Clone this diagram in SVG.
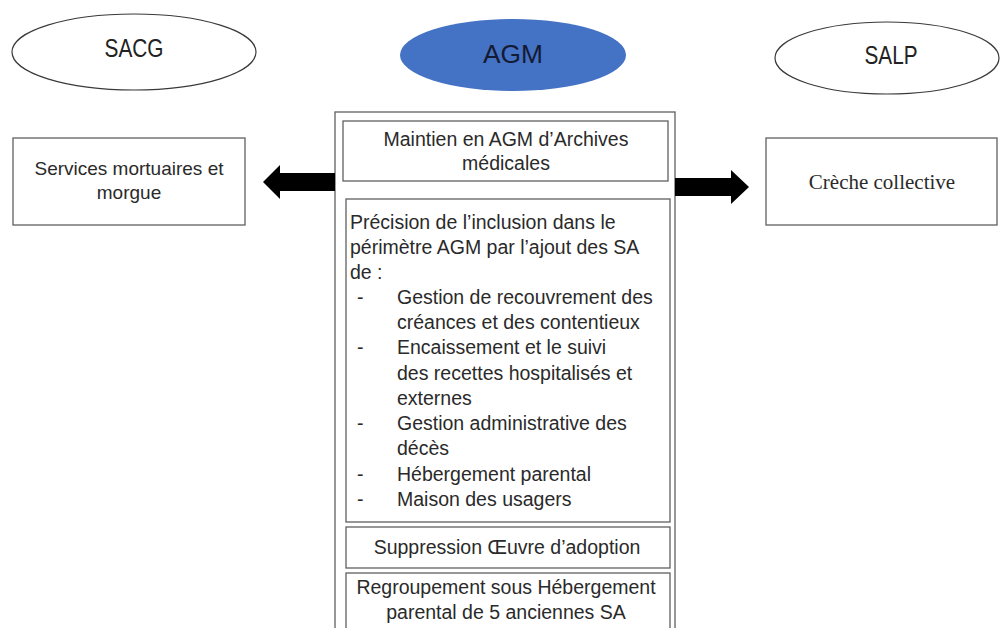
<svg xmlns="http://www.w3.org/2000/svg" width="1000" height="628" viewBox="0 0 1000 628">
<style>
.ell{fill:#fff;stroke:#3a3a3a;stroke-width:1.2}
.lab{font-family:"Liberation Sans",Arial,sans-serif;font-size:25px;fill:#222;text-anchor:middle}
.box{fill:#fff;stroke:#606060;stroke-width:1.3}
.t{font-family:"Liberation Sans",Arial,sans-serif;font-size:19.5px;fill:#2a2a2a}
.c{text-anchor:middle}
.side{font-family:"Liberation Sans",Arial,sans-serif;font-size:19px;fill:#2a2a2a;text-anchor:middle}
.serif{font-family:"Liberation Serif","Times New Roman",serif;font-size:21px;fill:#2a2a2a;text-anchor:middle}
.arrow{fill:#000}
</style>
<rect width="1000" height="628" fill="#fff"/>
<g id="node-sacg">
<ellipse class="ell" cx="134" cy="52" rx="122" ry="38"/>
<text class="lab" x="134" y="57" textLength="59" lengthAdjust="spacingAndGlyphs">SACG</text>
</g>
<g id="node-agm">
<ellipse cx="513" cy="55" rx="113" ry="36" fill="#4472C4"/>
<text class="lab" x="513" y="63" style="fill:#141a33" textLength="60" lengthAdjust="spacingAndGlyphs">AGM</text>
</g>
<g id="node-salp">
<ellipse class="ell" cx="887" cy="58" rx="112" ry="36"/>
<text class="lab" x="891" y="64" textLength="53" lengthAdjust="spacingAndGlyphs">SALP</text>
</g>
<g id="node-main">
<rect class="box" x="335" y="112" width="340" height="530"/>
</g>
<g id="node-maintien">
<rect class="box" x="343" y="121" width="325" height="60"/>
<text class="t c" x="506" y="146">Maintien en AGM d’Archives</text>
<text class="t c" x="506" y="170">médicales</text>
</g>
<g id="node-precision">
<rect class="box" x="346" y="199" width="324" height="323"/>
<text class="t" x="350" y="229">Précision de l’inclusion dans le</text>
<text class="t" x="350" y="254">périmètre AGM par l’ajout des SA</text>
<text class="t" x="350" y="279">de :</text>
<text class="t" x="357" y="304">-</text>
<text class="t" x="397" y="304">Gestion de recouvrement des</text>
<text class="t" x="397" y="329">créances et des contentieux</text>
<text class="t" x="357" y="354">-</text>
<text class="t" x="397" y="354">Encaissement et le suivi</text>
<text class="t" x="397" y="380">des recettes hospitalisés et</text>
<text class="t" x="397" y="405">externes</text>
<text class="t" x="357" y="430">-</text>
<text class="t" x="397" y="430">Gestion administrative des</text>
<text class="t" x="397" y="455">décès</text>
<text class="t" x="357" y="481">-</text>
<text class="t" x="397" y="481">Hébergement parental</text>
<text class="t" x="357" y="506">-</text>
<text class="t" x="397" y="506">Maison des usagers</text>
</g>
<g id="node-suppression">
<rect class="box" x="346" y="527" width="324" height="41"/>
<text class="t c" x="507" y="554">Suppression Œuvre d’adoption</text>
</g>
<g id="node-regroupement">
<rect class="box" x="346" y="573" width="324" height="70"/>
<text class="t c" x="506" y="594">Regroupement sous Hébergement</text>
<text class="t c" x="506" y="619">parental de 5 anciennes SA</text>
</g>
<g id="node-mortuaires">
<rect class="box" x="13" y="138" width="232" height="87"/>
<text class="side" x="129" y="175">Services mortuaires et</text>
<text class="side" x="129" y="199">morgue</text>
</g>
<g id="node-creche">
<rect class="box" x="766" y="138" width="231" height="87"/>
<text class="serif" x="882" y="189">Crèche collective</text>
</g>
<g id="connectors">
<polygon class="arrow" points="335,173 280,173 280,165 263,182 280,199 280,191 335,191"/>
<polygon class="arrow" points="675,178 731,178 731,170 749,187 731,204 731,196 675,196"/>
</g>
</svg>
